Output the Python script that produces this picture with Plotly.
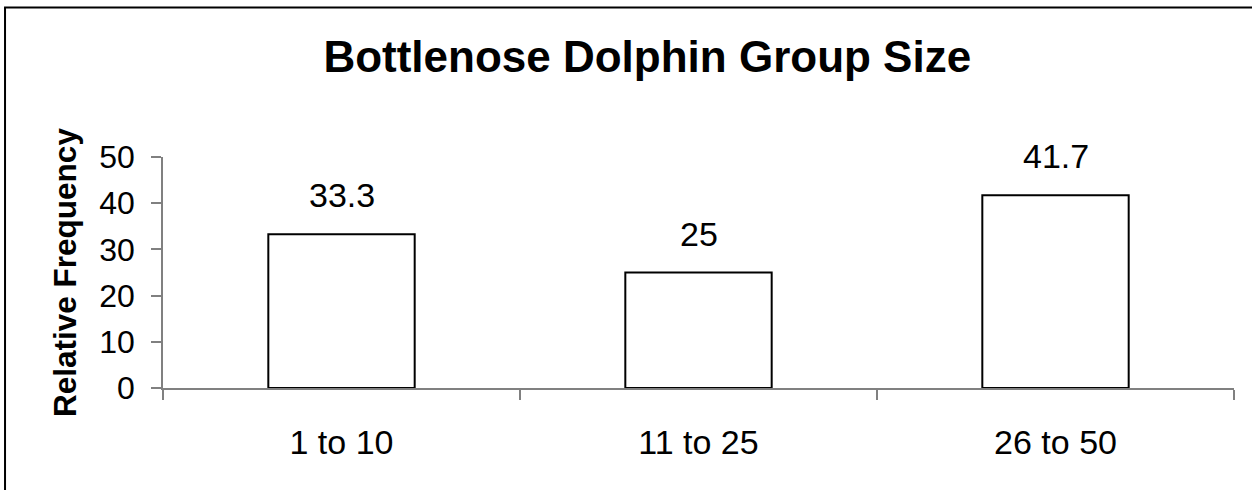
import plotly.graph_objects as go

# Group-size bins and their relative frequency (%)
group_sizes = ["1 to 10", "11 to 25", "26 to 50"]
rel_freq = [33.3, 25, 41.7]
value_labels = ["33.3", "25", "41.7"]

y_ticks = [0, 10, 20, 30, 40, 50]

FONT = "Liberation Sans, Arial, sans-serif"
AXIS_GREY = "#808080"

fig = go.Figure(
    go.Bar(
        x=group_sizes,
        y=rel_freq,
        width=0.41,
        marker=dict(color="white", line=dict(color="black", width=2)),
        hoverinfo="x+y",
    )
)

# value labels above each bar
for cat, val, txt in zip(group_sizes, rel_freq, value_labels):
    fig.add_annotation(
        x=cat, y=val, text=txt, showarrow=False,
        yanchor="bottom", yshift=18,
        font=dict(family=FONT, size=34, color="black"),
    )

# rotated y-axis title
fig.add_annotation(
    xref="paper", yref="paper", x=-0.092, y=0.5,
    text="<b>Relative Frequency</b>", textangle=-90, showarrow=False,
    xanchor="center", yanchor="middle",
    font=dict(family=FONT, size=31.5, color="black"),
)

# outer chart frame
fig.add_shape(
    type="rect", xref="paper", yref="paper",
    x0=-0.1475, x1=1.03, y0=-0.55, y1=1.647,
    line=dict(color="black", width=2), fillcolor="rgba(0,0,0,0)",
    layer="below",
)

fig.update_layout(
    width=1252, height=490,
    margin=dict(l=163, r=18, t=157, b=102, autoexpand=False),
    paper_bgcolor="white", plot_bgcolor="white",
    showlegend=False,
    title=dict(
        text="<b>Bottlenose Dolphin Group Size</b>",
        x=0.517, xanchor="center", xref="container",
        y=0.884, yanchor="middle", yref="container",
        font=dict(family=FONT, size=44, color="black"),
    ),
    font=dict(family=FONT, color="black"),
)

fig.update_xaxes(
    type="category",
    showline=True, linecolor=AXIS_GREY, linewidth=1.5,
    ticks="outside", tickson="boundaries", ticklen=10,
    tickcolor=AXIS_GREY, tickwidth=1.5,
    tickfont=dict(family=FONT, size=34, color="black"),
    ticklabelstandoff=23,
    showgrid=False, zeroline=False,
)

fig.update_yaxes(
    range=[0, 50], tickvals=y_ticks,
    showline=True, linecolor=AXIS_GREY, linewidth=1.5,
    ticks="outside", ticklen=10, tickcolor=AXIS_GREY, tickwidth=1.5,
    tickfont=dict(family=FONT, size=32, color="black"),
    ticklabelstandoff=10,
    showgrid=False, zeroline=False,
)

fig.write_html("out.html")
